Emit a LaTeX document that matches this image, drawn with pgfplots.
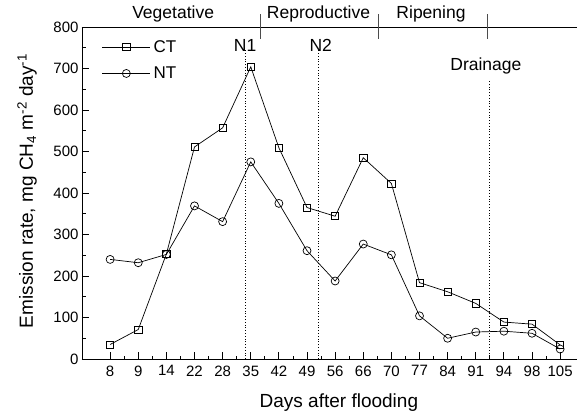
\documentclass[border=0pt]{standalone}
\usepackage{fontspec}
\setmainfont{Liberation Sans}
\usepackage{pgfplots}
\pgfplotsset{compat=1.18}
\begin{document}
\begin{tikzpicture}
\begin{axis}[
  scale only axis, width=495pt, height=332pt,
  xmin=-1, xmax=16.6, ymin=0, ymax=800,
  axis lines=left, axis line style={-, line width=0.8pt},
  xtick={0,...,16},
  xticklabels={8,9,14,22,28,35,42,49,56,66,70,77,84,91,94,98,105},
  ytick={0,100,...,800},
  minor x tick num=1, minor y tick num=1,
  tick align=inside,
  major tick length=7pt, minor tick length=3.5pt,
  every tick/.style={black, line width=0.8pt},
  /pgf/number format/assume math mode=true,
  tick label style={font=\fontsize{15}{15}\selectfont},
  xticklabel style={yshift=-3pt},
  label style={font=\fontsize{19}{19}\selectfont},
  xlabel={Days after flooding},
  ylabel={Emission rate, mg CH\textsubscript{4} m\textsuperscript{-2} day\textsuperscript{-1}},
  xlabel style={at={(axis description cs:0.519,-0.1446)}, anchor=base},
  ylabel style={at={(axis description cs:-0.111,0.506)}, anchor=center},
  clip=false,
  legend style={at={(axis description cs:0.04,0.966)}, anchor=north west, draw=none, fill=none,
    font=\fontsize{17}{17}\selectfont, row sep=9pt, inner sep=0pt,
    nodes={inner xsep=3pt}},
  legend cell align=left,
  legend image code/.code={\draw[mark repeat=2,mark phase=2] plot coordinates {(0pt,0pt) (24pt,0pt) (48pt,0pt)};},
]
\addplot[black, line width=0.7pt, mark=square, mark size=3.6pt, mark options={fill=white, solid}]
coordinates {(0,35) (1,71) (2,253) (3,511) (4,557) (5,704) (6,509) (7,365) (8,344) (9,485) (10,423) (11,184) (12,162) (13,134) (14,89) (15,84) (16,34)};
\addlegendentry{CT}
\addplot[black, line width=0.7pt, mark=o, mark size=4pt, mark options={fill=white, solid}]
coordinates {(0,240) (1,232) (2,252) (3,369) (4,331) (5,475) (6,375) (7,261) (8,188) (9,277) (10,251) (11,104) (12,50) (13,65) (14,67) (15,62) (16,24)};
\addlegendentry{NT}
% top line
\draw[line width=0.8pt] (rel axis cs:0,1) -- (rel axis cs:1,1);
% dotted event lines
\draw[dotted, line width=0.8pt] (axis cs:4.8,0) -- (axis cs:4.8,745);
\draw[dotted, line width=0.8pt] (axis cs:7.41,0) -- (axis cs:7.41,745);
\draw[dotted, line width=0.8pt] (axis cs:13.49,0) -- (axis cs:13.49,672);
\node[anchor=base, font=\fontsize{17.5}{17.5}\selectfont, inner sep=0pt] at (axis cs:4.8,740) {N1};
\node[anchor=base, font=\fontsize{17.5}{17.5}\selectfont, inner sep=0pt] at (axis cs:7.49,740) {N2};
\node[anchor=base, font=\fontsize{17.5}{17.5}\selectfont, inner sep=0pt] at (axis cs:13.36,696) {Drainage};
% phase separators
\draw[line width=0.8pt, black!70] (axis cs:5.34,831) -- (axis cs:5.34,771);
\draw[line width=0.8pt, black!70] (axis cs:9.54,831) -- (axis cs:9.54,771);
\draw[line width=0.8pt, black!70] (axis cs:13.42,831) -- (axis cs:13.42,771);
\node[anchor=base, font=\fontsize{17.5}{17.5}\selectfont, inner sep=0pt] at (axis cs:2.24,820.5) {Vegetative};
\node[anchor=base, font=\fontsize{17.5}{17.5}\selectfont, inner sep=0pt] at (axis cs:7.41,820.5) {Reproductive};
\node[anchor=base, font=\fontsize{17.5}{17.5}\selectfont, inner sep=0pt] at (axis cs:11.41,820.5) {Ripening};
\end{axis}
\pgfresetboundingbox
\path (-82pt,-57pt) rectangle (495pt,359pt);
\end{tikzpicture}
\end{document}
